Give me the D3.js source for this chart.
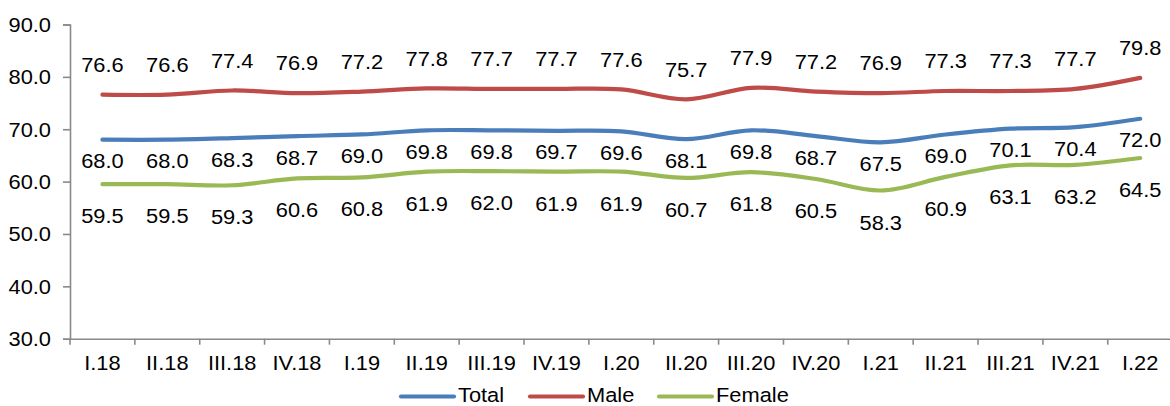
<!DOCTYPE html>
<html>
<head>
<meta charset="utf-8">
<script src="https://cdn.jsdelivr.net/npm/d3@7"></script>
<style>
  html, body { margin: 0; padding: 0; background: #fff; }
  svg { display: block; }
  text { font-family: "Liberation Sans", Arial, sans-serif; fill: #000; }
</style>
</head>
<body>
<script>
const categories = ["I.18","II.18","III.18","IV.18","I.19","II.19","III.19","IV.19","I.20","II.20","III.20","IV.20","I.21","II.21","III.21","IV.21","I.22"];
const totalValues  = [68.0,68.0,68.3,68.7,69.0,69.8,69.8,69.7,69.6,68.1,69.8,68.7,67.5,69.0,70.1,70.4,72.0];
const maleValues   = [76.6,76.6,77.4,76.9,77.2,77.8,77.7,77.7,77.6,75.7,77.9,77.2,76.9,77.3,77.3,77.7,79.8];
const femaleValues = [59.5,59.5,59.3,60.6,60.8,61.9,62.0,61.9,61.9,60.7,61.8,60.5,58.3,60.9,63.1,63.2,64.5];
const yTicks = [30,40,50,60,70,80,90];

const W = 1170, H = 406;
const FS = 19.5, SX = 1.12;
const svg = d3.select("body").append("svg").attr("width", W).attr("height", H);

const x = d3.scaleBand().domain(categories).range([70, 70 + 17 * 64.86]).padding(0);
const y = d3.scaleLinear().domain([30, 90]).range([338.7, 24.5]);

const axisColor = "#898989";

// Y axis
const gy = svg.append("g").attr("transform", "translate(70,0)")
  .call(d3.axisLeft(y).tickValues(yTicks).tickSize(7).tickFormat(d3.format(".1f")));
gy.select(".domain").attr("stroke", axisColor).attr("stroke-width", 1.6);
gy.selectAll(".tick line").attr("stroke", axisColor).attr("stroke-width", 1.6);
gy.selectAll(".tick text")
  .attr("x", null).attr("dy", null)
  .attr("transform", "translate(-19,0) scale(" + SX + ",1)")
  .attr("y", FS * 0.35)
  .attr("font-size", FS).attr("fill", "#000")
  .style("font-family", "'Liberation Sans', Arial, sans-serif");

// X axis
const gx = svg.append("g").attr("transform", "translate(0," + y(30) + ")")
  .call(d3.axisBottom(x).tickSize(0).tickSizeOuter(0));
gx.select(".domain").attr("stroke", axisColor).attr("stroke-width", 1.6);
gx.selectAll(".tick text")
  .attr("y", null).attr("dy", null)
  .attr("transform", "translate(0,31.5) scale(" + SX + ",1)")
  .attr("font-size", FS).attr("fill", "#000")
  .style("font-family", "'Liberation Sans', Arial, sans-serif");
// tick marks at band boundaries
const bounds = categories.map(c => x(c)).concat([x(categories[categories.length - 1]) + x.bandwidth()]);
gx.selectAll(".bt").data(bounds).enter().append("line")
  .attr("x1", d => d).attr("x2", d => d)
  .attr("y1", 0).attr("y2", 6)
  .attr("stroke", axisColor).attr("stroke-width", 1.6);

const series = [
  { name: "Total",  values: totalValues,  color: "#4A7EBB", off: 28.6 },
  { name: "Male",   values: maleValues,   color: "#BE4B48", off: -22.7 },
  { name: "Female", values: femaleValues, color: "#98B954", off: 39 }
];

const line = d3.line()
  .x((d, i) => x(categories[i]) + x.bandwidth() / 2)
  .y(d => y(d))
  .curve(d3.curveCatmullRom.alpha(0));

series.forEach(s => {
  svg.append("path").datum(s.values)
    .attr("d", line)
    .attr("fill", "none")
    .attr("stroke", s.color)
    .attr("stroke-width", 4.2)
    .attr("stroke-linecap", "round")
    .attr("stroke-linejoin", "round");
});

series.forEach(s => {
  svg.append("g").selectAll("text").data(s.values).enter().append("text")
    .attr("text-anchor", "middle")
    .attr("font-size", FS)
    .attr("transform", (d, i) => "translate(" + (x(categories[i]) + x.bandwidth() / 2) + "," + (y(d) + s.off) + ") scale(" + SX + ",1)")
    .text(d => d3.format(".1f")(d));
});

// Legend
const legend = [
  { name: "Total",  color: "#4A7EBB", x0: 400 },
  { name: "Male",   color: "#BE4B48", x0: 529 },
  { name: "Female", color: "#98B954", x0: 658 }
];
const lg = svg.append("g");
legend.forEach(l => {
  lg.append("line")
    .attr("x1", l.x0 + 1).attr("x2", l.x0 + 54)
    .attr("y1", 396.5).attr("y2", 396.5)
    .attr("stroke", l.color).attr("stroke-width", 4.2)
    .attr("stroke-linecap", "round");
  lg.append("text")
    .attr("font-size", FS)
    .attr("transform", "translate(" + (l.x0 + 58) + ",401.5) scale(" + SX + ",1)")
    .text(l.name);
});
</script>
</body>
</html>
